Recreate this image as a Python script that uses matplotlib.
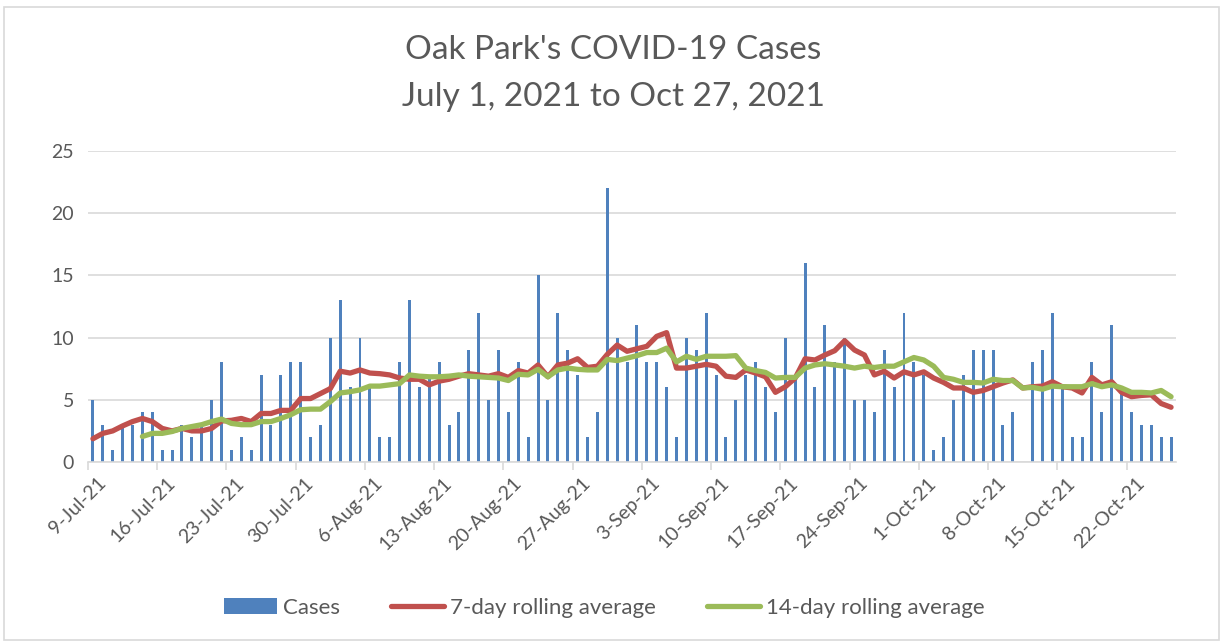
import matplotlib
matplotlib.use("Agg")
import matplotlib.pyplot as plt
from matplotlib.patches import Rectangle

plt.rcParams['font.family'] = ['Lato', 'DejaVu Sans']

# Tägliche Fälle ab 9-Jul-21
CASES = [5, 3, 1, 3, 3, 4, 4, 1, 1, 3, 2, 3, 5, 8, 1, 2, 1, 7, 3, 7,
         8, 8, 2, 3, 10, 13, 6, 10, 6, 2, 2, 8, 13, 6, 7, 8, 3, 4, 9, 12,
         5, 9, 4, 8, 2, 15, 5, 12, 9, 7, 2, 4, 22, 10, 8, 11, 8, 8, 6, 2,
         10, 9, 12, 7, 2, 5, 7, 8, 6, 4, 10, 7, 16, 6, 11, 8, 10, 5, 5, 4,
         9, 6, 12, 8, 7, 1, 2, 5, 7, 9, 9, 9, 3, 4, 0, 8, 9, 12, 6, 2,
         2, 8, 4, 11, 6, 4, 3, 3, 2, 2]

AVG7 = [1.87, 2.3, 2.5, 2.9, 3.25, 3.5, 3.25, 2.7, 2.5, 2.7,
        2.5, 2.5, 2.7, 3.3, 3.35, 3.5, 3.25, 3.9, 3.9, 4.15,
        4.15, 5.1, 5.1, 5.5, 5.9, 7.3, 7.15, 7.4, 7.15, 7.1,
        7.0, 6.75, 6.65, 6.65, 6.2, 6.5, 6.65, 6.9, 7.1, 7.0,
        6.9, 7.1, 6.8, 7.35, 7.15, 7.8, 6.85, 7.8, 7.95, 8.3,
        7.6, 7.7, 8.65, 9.4, 8.9, 9.1, 9.3, 10.1, 10.4, 7.55,
        7.55, 7.7, 7.85, 7.7, 6.9, 6.8, 7.4, 7.15, 6.85, 5.6,
        6.05, 6.75, 8.3, 8.2, 8.6, 8.95, 9.75, 9.0, 8.6, 7.0,
        7.3, 6.75, 7.25, 7.0, 7.25, 6.75, 6.4, 5.95, 5.95, 5.6,
        5.75, 6.05, 6.35, 6.6, 5.95, 6.05, 6.1, 6.45, 6.05, 5.95,
        5.55, 6.8, 6.2, 6.45, 5.6, 5.25, 5.35, 5.4, 4.7, 4.4]

# 14-Tage-Mittel beginnt erst am sechsten Tag
AVG14 = [None] * 5 + [
        2.05, 2.3, 2.3, 2.45, 2.7,
        2.85, 3.0, 3.25, 3.45, 3.1, 3.0, 3.0, 3.25, 3.25, 3.5,
        3.8, 4.2, 4.25, 4.25, 4.85, 5.55, 5.65, 5.8, 6.1, 6.1,
        6.2, 6.3, 7.0, 6.9, 6.85, 6.85, 6.9, 7.0, 6.9, 6.85,
        6.8, 6.75, 6.55, 7.05, 7.0, 7.45, 6.85, 7.4, 7.55, 7.45,
        7.4, 7.4, 8.25, 8.15, 8.35, 8.55, 8.8, 8.8, 9.15, 8.05,
        8.5, 8.25, 8.5, 8.5, 8.5, 8.55, 7.55, 7.35, 7.2, 6.75,
        6.8, 6.8, 7.55, 7.8, 7.9, 7.8, 7.7, 7.55, 7.7, 7.6,
        7.7, 7.7, 8.05, 8.4, 8.2, 7.7, 6.8, 6.65, 6.4, 6.4,
        6.35, 6.65, 6.55, 6.55, 5.95, 6.0, 5.85, 6.1, 6.05, 6.05,
        6.05, 6.3, 6.05, 6.2, 5.95, 5.6, 5.6, 5.55, 5.75, 5.25]

TICK_LABELS = ['9-Jul-21', '16-Jul-21', '23-Jul-21', '30-Jul-21', '6-Aug-21',
               '13-Aug-21', '20-Aug-21', '27-Aug-21', '3-Sep-21', '10-Sep-21',
               '17-Sep-21', '24-Sep-21', '1-Oct-21', '8-Oct-21', '15-Oct-21',
               '22-Oct-21']

BLUE = '#4F81BD'
RED = '#C0504D'
GREEN = '#9BBB59'
TEXT = '#595959'
GRID = '#D9D9D9'

x = list(range(len(CASES)))
x14 = [i for i, v in enumerate(AVG14) if v is not None]
y14 = [v for v in AVG14 if v is not None]

fig = plt.figure(figsize=(12.27, 6.43), dpi=100)
ax = fig.add_axes([88 / 1227, 1 - 462 / 643, (1176 - 88) / 1227, (462 - 151) / 643])

# Rahmen um das ganze Diagramm
fig.patches.append(Rectangle((4 / 1227, 3 / 643), 1215 / 1227, 633 / 643,
                             transform=fig.transFigure, fill=False,
                             edgecolor=GRID, linewidth=1.2))

bars = ax.bar(x, CASES, width=0.3, color=BLUE, label='Cases', zorder=2)
l7, = ax.plot(x, AVG7, color=RED, linewidth=3.8, label='7-day rolling average',
              solid_capstyle='round', solid_joinstyle='round', zorder=3)
l14, = ax.plot(x14, y14, color=GREEN, linewidth=3.8, label='14-day rolling average',
               solid_capstyle='round', solid_joinstyle='round', zorder=4)

ax.set_xlim(-0.5, len(CASES) - 0.5)
ax.set_ylim(0, 25)
ax.set_yticks([0, 5, 10, 15, 20, 25])
ax.grid(axis='y', color=GRID, linewidth=1.2, zorder=0)
ax.set_axisbelow(True)

ax.set_xticks([i + 0.4 for i in range(0, len(CASES), 7)])
ax.set_xticklabels(TICK_LABELS, rotation=45, ha='right', rotation_mode='anchor')
ax.set_xticks([i - 0.5 for i in range(0, len(CASES) + 1, 7)], minor=True)
ax.tick_params(axis='x', which='major', length=0, pad=9, labelsize=14, colors=TEXT)
ax.tick_params(axis='x', which='minor', length=6, color=GRID, width=1.2)
ax.tick_params(axis='y', length=0, pad=10, labelsize=14, colors=TEXT)

for s in ['top', 'right', 'left']:
    ax.spines[s].set_visible(False)
ax.spines['bottom'].set_color(GRID)
ax.spines['bottom'].set_linewidth(1.2)

fig.text(0.5, 1 - 50 / 643, "Oak Park's COVID-19 Cases", ha='center', va='center',
         fontsize=24, color=TEXT)
fig.text(0.5, 1 - 97 / 643, "July 1, 2021 to Oct 27, 2021", ha='center', va='center',
         fontsize=24, color=TEXT)

leg = fig.legend([bars, l7, l14], ['Cases', '7-day rolling average', '14-day rolling average'],
                 loc='center', bbox_to_anchor=(604 / 1227, 1 - 608 / 643), ncol=3,
                 frameon=False, fontsize=16, handlelength=2.4, handletextpad=0.25,
                 columnspacing=2.3)
for t in leg.get_texts():
    t.set_color(TEXT)

fig.savefig('out.png', dpi=100)
